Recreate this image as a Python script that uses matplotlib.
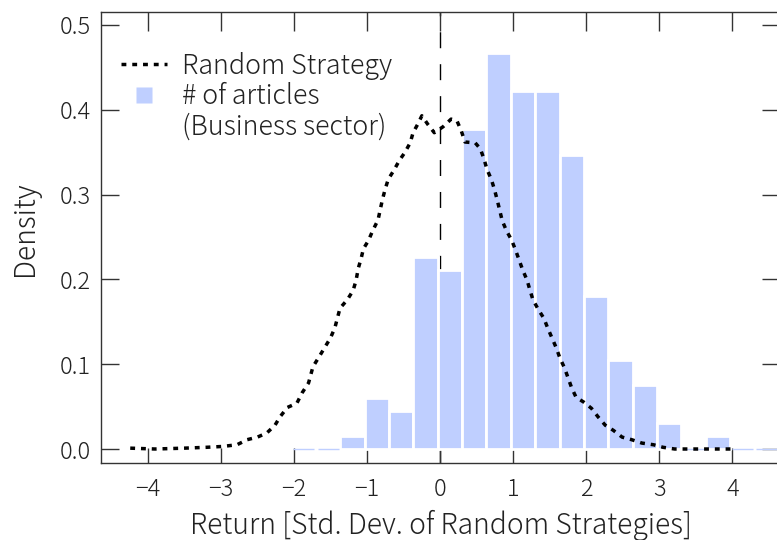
import matplotlib
matplotlib.use("Agg")
import matplotlib.pyplot as plt
from matplotlib.lines import Line2D

plt.rcParams['font.family'] = ['Noto Sans CJK JP', 'DejaVu Sans']
plt.rcParams['font.weight'] = 'light'
plt.rcParams['axes.labelweight'] = 'light'

# ---- data ----
hist_centers = [-1.867, -1.533, -1.2, -0.867, -0.533, -0.2, 0.133, 0.467, 0.8,
                1.133, 1.467, 1.8, 2.133, 2.467, 2.8, 3.133, 3.467, 3.8, 4.133, 4.467]
hist_density = [0.0, 0.0, 0.0151, 0.0603, 0.0452, 0.2261, 0.2111, 0.3769, 0.4673,
                0.4221, 0.4221, 0.3467, 0.1809, 0.1055, 0.0754, 0.0302, 0.0, 0.0151, 0.0, 0.0]
bin_width = 1.0 / 3.0

rand_x = [-4.24, -3.9, -3.5, -3.2, -2.98, -2.78, -2.64, -2.50, -2.37, -2.26, -2.19, -2.09,
          -1.96, -1.89, -1.80, -1.74, -1.64, -1.50, -1.44, -1.37, -1.27, -1.19, -1.15,
          -1.12, -1.08, -1.05, -0.98, -0.92, -0.85, -0.82, -0.79, -0.75, -0.71, -0.63,
          -0.56, -0.48, -0.41, -0.37, -0.30, -0.25, -0.17, -0.08, 0.04, 0.15, 0.23, 0.29,
          0.34, 0.48, 0.55, 0.60, 0.64, 0.70, 0.74, 0.78, 0.85, 0.91, 0.98, 1.03, 1.08,
          1.13, 1.19, 1.23, 1.27, 1.34, 1.42, 1.47, 1.53, 1.59, 1.64, 1.70, 1.75, 1.80,
          1.86, 1.97, 2.07, 2.16, 2.26, 2.37, 2.49, 2.62, 2.76, 2.92, 3.05, 3.21, 3.35,
          3.49, 3.65, 3.79, 3.98]
rand_y = [0.001, 0.0, 0.001, 0.002, 0.003, 0.005, 0.011, 0.014, 0.019, 0.028, 0.038, 0.049,
          0.054, 0.066, 0.078, 0.097, 0.111, 0.131, 0.143, 0.166, 0.176, 0.187, 0.199,
          0.213, 0.225, 0.236, 0.246, 0.258, 0.270, 0.282, 0.294, 0.307, 0.318, 0.329,
          0.340, 0.350, 0.361, 0.373, 0.384, 0.393, 0.383, 0.373, 0.380, 0.389, 0.387, 0.375,
          0.362, 0.361, 0.354, 0.342, 0.330, 0.318, 0.307, 0.294, 0.269, 0.257, 0.246, 0.235,
          0.223, 0.211, 0.199, 0.187, 0.176, 0.165, 0.154, 0.143, 0.131, 0.119, 0.107, 0.096,
          0.084, 0.072, 0.061, 0.055, 0.048, 0.038, 0.028, 0.022, 0.014, 0.011, 0.007, 0.005,
          0.002, 0.0, 0.0, 0.0, 0.0, 0.0, 0.0]

x_ticks = [-4, -3, -2, -1, 0, 1, 2, 3, 4]
y_ticks = [0.0, 0.1, 0.2, 0.3, 0.4, 0.5]

x_label = "Return [Std. Dev. of Random Strategies]"
y_label = "Density"
legend_labels = ["Random Strategy", "# of articles", "(Business sector)"]

# ---- style ----
bar_color = '#BFCFFF'
axis_color = '#333333'
text_color = '#222222'

fig = plt.figure(figsize=(7.77, 5.40), dpi=100)
ax = fig.add_axes([101/777, 77/540, 679/777, 451/540])

# reference line at zero (behind bars)
ax.axvline(0, color='black', lw=1.0, ls=(0, (11.5, 11.5)), zorder=1)

nz = [h > 0 for h in hist_density]
ax.bar([c for c, k in zip(hist_centers, nz) if k],
       [h for h, k in zip(hist_density, nz) if k],
       width=bin_width, color=bar_color, edgecolor='white', linewidth=2.0, zorder=2)
ax.bar([c for c, k in zip(hist_centers, nz) if not k],
       [h for h, k in zip(hist_density, nz) if not k],
       width=bin_width * 0.86, color=bar_color, edgecolor=bar_color, linewidth=1.0, zorder=2)

ax.plot(rand_x, rand_y, color='black', lw=2.5, ls=(0, (1.4, 1.7)),
        solid_capstyle='butt', dash_capstyle='butt', zorder=3)

ax.set_xlim(-4.64, 4.65)
ax.set_ylim(-0.0165, 0.5153)
ax.set_xticks(x_ticks)
ax.set_xticklabels(["\u2212%d" % -t if t < 0 else "%d" % t for t in x_ticks])
ax.set_yticks(y_ticks)
ax.set_yticklabels(["%.1f" % t for t in y_ticks])

for sp in ax.spines.values():
    sp.set_color(axis_color)
    sp.set_linewidth(1.0)

ax.tick_params(axis='both', direction='in', color=axis_color, width=1.0,
               labelsize=17, labelcolor=text_color)
ax.tick_params(axis='x', length=11, pad=10, top=True)
ax.tick_params(axis='y', length=13, pad=7.5, right=True)
for t in ax.xaxis.get_major_ticks():
    t.tick2line.set_markersize(13.5)

ax.set_xlabel(x_label, fontsize=20.3, color=text_color, va='baseline', fontweight='light')
ax.xaxis.set_label_coords(0.5, -0.158)
ax.set_ylabel(y_label, fontsize=20.3, color=text_color, va='center', fontweight='light')
ax.yaxis.set_label_coords(-0.112, 0.519)

handles = [
    Line2D([], [], color='black', lw=2.5, ls=(0, (1.4, 1.7)), dash_capstyle='butt'),
    Line2D([], [], ls='none', marker='s', markersize=11.5, markerfacecolor=bar_color,
           markeredgecolor='none'),
    Line2D([], [], ls='none'),
]
ax.legend(handles, legend_labels, loc='upper left', bbox_to_anchor=(0.03, 0.912),
          frameon=False, fontsize=19.3, handlelength=1.7, handletextpad=0.55,
          labelspacing=0.1, borderpad=0, borderaxespad=0, labelcolor=text_color)

fig.savefig('out.png', dpi=100)
